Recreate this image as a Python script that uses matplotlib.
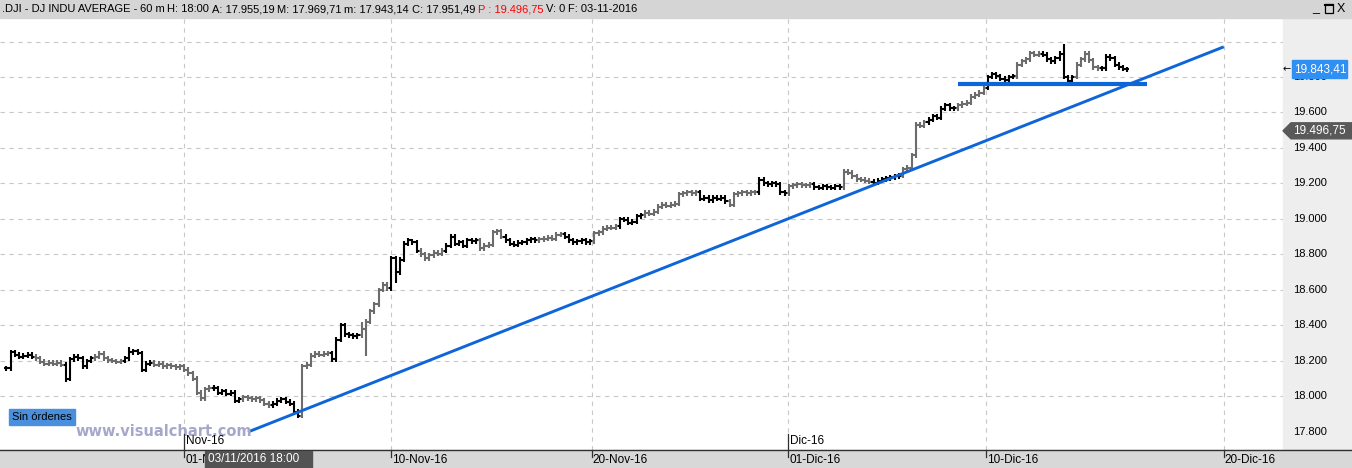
import matplotlib
matplotlib.use("Agg")
import matplotlib.pyplot as plt
from matplotlib.collections import LineCollection
from matplotlib.patches import Rectangle, Polygon

# ---------------- data ----------------
closes = [
    18160, 18250, 18235, 18225, 18230, 18235, 18225,
    18215, 18195, 18185, 18190, 18185, 18190, 18180,
    18100, 18210, 18225, 18215, 18170, 18200, 18215,
    18225, 18240, 18215, 18205, 18200, 18195, 18200,
    18215, 18250, 18255, 18245, 18150, 18185, 18190,
    18180, 18185, 18170, 18175, 18170, 18165, 18170,
    18150, 18130, 18100, 18020, 17990, 18040, 18050,
    18045, 18020, 18030, 18015, 18020, 17975, 17985,
    17995, 17990, 17985, 17990, 17980, 17960, 17950,
    17960, 17975, 17985, 17970, 17960, 17915, 17890,
    18170, 18180, 18230, 18240, 18235, 18240, 18245,
    18210, 18320, 18400, 18350, 18345, 18340, 18345,
    18380, 18420, 18480, 18520, 18600, 18630, 18610,
    18780, 18700, 18770, 18860, 18880, 18870, 18820,
    18800, 18780, 18795, 18810, 18805, 18820, 18850,
    18900, 18860, 18870, 18850, 18880, 18875, 18880,
    18835, 18850, 18855, 18925, 18930, 18900, 18880,
    18860, 18855, 18865, 18870, 18880, 18885, 18880,
    18885, 18890, 18895, 18890, 18910, 18915, 18900,
    18880, 18870, 18875, 18880, 18870, 18875, 18920,
    18925, 18945, 18950, 18950, 18960, 19000, 18995,
    18980, 18985, 19015, 19020, 19035, 19030, 19040,
    19070, 19080, 19075, 19080, 19085, 19140, 19145,
    19150, 19145, 19150, 19115, 19120, 19105, 19120,
    19115, 19120, 19100, 19080, 19140, 19145, 19150,
    19145, 19150, 19150, 19220, 19200, 19195, 19200,
    19195, 19150, 19145, 19185, 19190, 19195, 19190,
    19190, 19195, 19180, 19175, 19185, 19180, 19175,
    19185, 19180, 19265, 19260, 19240, 19225, 19220,
    19215, 19210, 19205, 19215, 19225, 19230, 19235,
    19240, 19245, 19280, 19290, 19360, 19530, 19525,
    19545, 19560, 19580, 19570, 19620, 19640, 19625,
    19625, 19640, 19650, 19655, 19690, 19700, 19710,
    19740, 19800, 19815, 19805, 19790, 19785, 19800,
    19805, 19870, 19890, 19900, 19935, 19925, 19930,
    19925, 19900, 19890, 19905, 19930, 19800, 19780,
    19800, 19870, 19900, 19930, 19895, 19855, 19850,
    19850, 19915, 19905, 19870, 19855, 19845, 19843,
]
bar_colors = [
    "kkkkkkk", "ggggggg", "kkkkkkk", "ggggggg", "kkkkkkk", "ggggggg",
    "ggggggg", "kkkkkkk", "ggggggg", "kkkkkkk", "ggggggg", "kkkkkkk",
    "ggggggg", "kkkkkkk", "ggggggk", "kkkkkkk", "ggggggk", "kkkkkkk",
    "ggggggk", "kkkkkkg", "gggggkk", "kkkkggg", "ggggggg", "gggkkkk",
    "kkkgggg", "gggkkkk", "kkkgggg", "ggkkkkk", "kkggggg", "ggkkkkk",
    "kkggggg", "gkkkkkk", "kgggggg", "gkkkkkk", "kgggggg", "kkkkkkk",
    "kgggggg", "kkkkkkk",
]
spike_high = {250: 19985, 29: 18280, 84: 18420, 96: 18885}
spike_low = {14: 18080, 251: 19770, 46: 17975, 85: 18230, 92: 18640}

grid_prices = [18000, 18200, 18400, 18600, 18800, 19000, 19200, 19400, 19600, 19800, 20000]
price_labels = [17800, 18000, 18200, 18400, 18600, 18800, 19000, 19200, 19400, 19600, 19800]
date_ticks = [42, 91, 138.4, 184.8, 231.6, 287.8]
date_labels = ["01-Nov-16", "10-Nov-16", "20-Nov-16", "01-Dic-16", "10-Dic-16", "20-Dic-16"]
month_marks = [42, 184.8]
month_labels = ["Nov-16", "Dic-16"]
trend_x = [57.1, 287.8]
trend_y = [17800, 19970]
support_x = [225, 269.6]
support_y = [19760, 19760]
last_price = 19843.41
ref_price = 19496.75
cursor_label = "03/11/2016 18:00"
header_fields = [".DJI - DJ INDU AVERAGE -", "60 m", "H: 18:00", "A: 17.955,19",
                 "M: 17.969,71", "m: 17.943,14", "C: 17.951,49", "P : 19.496,75",
                 "V: 0", "F: 03-11-2016"]

# ---------------- layout ----------------
W, H = 1352, 468
FONT = "Liberation Sans"
plt.rcParams["font.family"] = [FONT, "DejaVu Sans"]
fig = plt.figure(figsize=(W / 100, H / 100), dpi=100)
fig.patch.set_facecolor("white")

plot_left, plot_right, plot_top, plot_bottom = 0, 1283, 18, 450
ax = fig.add_axes([plot_left / W, 1 - plot_bottom / H,
                   (plot_right - plot_left) / W, (plot_bottom - plot_top) / H])
ax.set_xlim(-1.513, 301.8)
ax.set_ylim(17698.5, 20132.4)
ax.set_axis_off()

grid_kw = dict(color="#c8c8c8", lw=0.8, dashes=(4, 4), zorder=0)
for p in grid_prices:
    ax.axhline(p, **grid_kw)
for t in date_ticks:
    ax.axvline(t, **grid_kw)

# OHLC bars
colors = "".join(bar_colors)
cmap = {"k": "#000000", "g": "#6c6c6c"}
segs, cols = [], []
for i, c in enumerate(closes):
    o = closes[i - 1] if i else c
    hi = spike_high.get(i, max(o, c) + 14)
    lo = spike_low.get(i, min(o, c) - 14)
    segs += [[(i, lo), (i, hi)], [(i - 0.5, o), (i, o)], [(i, c), (i + 0.5, c)]]
    cols += [cmap[colors[i]]] * 3
ax.add_collection(LineCollection(segs, colors=cols, linewidths=1.5,
                                 capstyle="butt", zorder=3))

blue = "#0e65da"
ax.plot(trend_x, trend_y, color=blue, lw=2.1, zorder=4, solid_capstyle="butt")
ax.plot(support_x, support_y, color=blue, lw=3.0, zorder=4, solid_capstyle="butt")

# ---------------- overlay in pixel coordinates ----------------
ov = fig.add_axes([0, 0, 1, 1], zorder=5)
ov.set_xlim(0, W)
ov.set_ylim(H, 0)
ov.set_axis_off()
ov.patch.set_alpha(0)


def py(price):
    return H - ax.transData.transform((0, price))[1]


def px(xv):
    return ax.transData.transform((xv, 0))[0]


renderer = fig.canvas.get_renderer()

# bands
ov.add_patch(Rectangle((plot_right, plot_top), W - plot_right, plot_bottom - plot_top,
                       color="#eeeeee", zorder=0))
ov.add_patch(Rectangle((0, 0), W, plot_top, color="#d5d5d5", zorder=0))
ov.add_patch(Rectangle((0, plot_bottom), W, H - plot_bottom, color="#d8d8d8", zorder=0))
ov.plot([0, W], [plot_bottom - 0.5, plot_bottom - 0.5], color="#303030", lw=1.0, zorder=2)

# header, laid out field after field
widths = []
texts = []
for txt in header_fields:
    t = ov.text(0, 9, txt, fontsize=8, va="center", ha="left",
                color="#ff0000" if txt.startswith("P") else "#000000", zorder=3)
    texts.append(t)
    widths.append(t.get_window_extent(renderer).width)
header_start, header_end = 2, 637
gap = (header_end - header_start - sum(widths)) / (len(widths) - 1)
xh = header_start
for t, w in zip(texts, widths):
    t.set_x(xh)
    xh += w + gap

# window buttons
ov.text(1316, 8, "_", fontsize=9, ha="center", va="center", color="#000000", zorder=3)
ov.add_patch(Rectangle((1325, 4), 8, 9, fill=False, ec="#000000", lw=0.9, zorder=3))
ov.plot([1325, 1333], [5, 5], color="#000000", lw=1.5, zorder=3)
ov.text(1341, 9, "X", fontsize=9, ha="center", va="center", color="#000000", zorder=3)

# price labels
for p in price_labels:
    ov.text(1293, py(p), f"{p:,}".replace(",", "."), fontsize=8, va="center",
            ha="left", color="#000000", zorder=3)


def eur(v):
    return f"{v:,.2f}".replace(",", "X").replace(".", ",").replace("X", ".")


# last price (blue) box
yl = py(last_price)
ov.add_patch(Rectangle((1292, yl - 9), 55, 18, color="#2f8ff2", zorder=4))
ov.text(1294, yl, eur(last_price), fontsize=8.5, va="center", ha="left",
        color="white", zorder=5)
ov.text(1283, yl, "\u2190", fontsize=7, va="center", ha="left", color="#000000",
        family="DejaVu Sans", zorder=5)

# reference price (gray) box
yr = py(ref_price)
ov.add_patch(Polygon([(1283, yr), (1291, yr - 8), (W, yr - 8), (W, yr + 8), (1291, yr + 8)],
                     closed=True, color="#595959", zorder=4))
ov.text(1293, yr, eur(ref_price), fontsize=8.5, va="center", ha="left",
        color="white", zorder=5)

# date axis
for t, lab in zip(date_ticks, date_labels):
    xt = px(t)
    ov.plot([xt, xt], [plot_bottom, plot_bottom + 7], color="#303030", lw=0.9, zorder=3)
    ov.text(xt + 1, 460, lab, fontsize=8.5, va="center", ha="left", color="#000000", zorder=3)
for t, lab in zip(month_marks, month_labels):
    xt = px(t)
    ov.plot([xt, xt], [434, plot_bottom], color="#303030", lw=0.9, zorder=3)
    ov.text(xt + 1.5, 440.5, lab, fontsize=8.5, va="center", ha="left", color="#000000", zorder=3)

# cursor date box
ov.add_patch(Rectangle((205, 451), 107, 17, color="#535353", zorder=4))
ov.text(208, 459.5, cursor_label, fontsize=8.5, va="center", ha="left", color="white", zorder=5)

# order box and watermark
ov.add_patch(Rectangle((9, 409), 66, 16, color="#4a8fde", zorder=4))
ov.text(12, 417, "Sin órdenes", fontsize=8, va="center", ha="left", color="#000000", zorder=5)
ov.text(75, 431, "www.visualchart.com", fontsize=10.5, fontweight="bold", family="DejaVu Sans",
        va="center", ha="left", color="#a7a7cc", zorder=1)

fig.savefig("out.png", dpi=100)
